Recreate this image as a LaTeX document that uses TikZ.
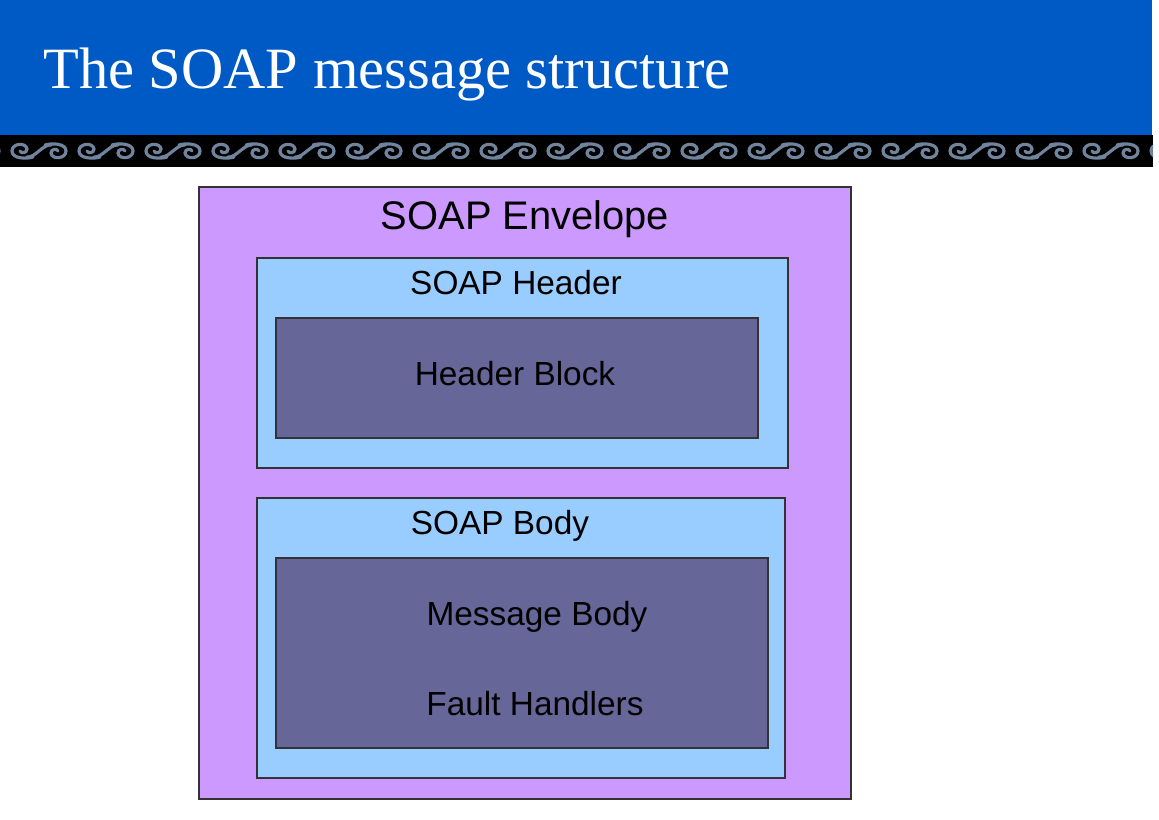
\documentclass[tikz,border=0pt]{standalone}
\usepackage{fontspec}
\setmainfont{Liberation Serif}
\setsansfont{Liberation Sans}
\definecolor{slideblue}{RGB}{0,90,198}
\definecolor{envpurple}{RGB}{204,153,255}
\definecolor{partblue}{RGB}{153,204,255}
\definecolor{blockgray}{RGB}{102,102,153}
\definecolor{scrollgray}{RGB}{112,132,158}
\tikzset{
  envbox/.style={draw=black!80,line width=0.6pt,fill=envpurple},
  partbox/.style={draw=black!80,line width=0.6pt,fill=partblue},
  blockbox/.style={draw=black!80,line width=0.6pt,fill=blockgray},
  boxtext/.style={font=\sffamily\fontsize{19}{22}\selectfont,anchor=base,inner sep=0pt},
  scrollline/.style={draw=scrollgray,line width=1.8pt,line cap=round},
  scroll/.pic={
    \draw[scrollline] (-6,6) .. controls (-12,8) and (-27,8) .. (-27,0)
       .. controls (-27,-8) and (-13,-9) .. (-12,-2) .. controls (-12,2) and (-18,3) .. (-19,0);
    \draw[scrollline] (-12,6) .. controls (-4,7) and (4,-7) .. (12,-6);
    \draw[scrollline] (6,-6) .. controls (12,-8) and (27,-8) .. (27,0)
       .. controls (27,8) and (13,9) .. (12,2) .. controls (12,-2) and (18,-3) .. (19,0);
  }
}
\begin{document}
\begin{tikzpicture}[x=0.02cm,y=-0.02cm]
    \fill[white] (0,0) rectangle (1159,819);
    \useasboundingbox (0,0) rectangle (1159,819);
    % title band
    \fill[slideblue] (0,0) rectangle (1152,135);
    \fill[black] (0,135) rectangle (1153,167);
    \begin{scope}
      \clip (0,135) rectangle (1153,167);
      \foreach \k in {-1,...,17}
        \pic at ({39+67*\k},151) {scroll};
    \end{scope}
    \node[anchor=base west,inner sep=0pt,text=white,font=\fontsize{33.3}{40}\selectfont] (title) at (43,88) {The SOAP message structure};

    % envelope and its parts
    \draw[envbox] (199,187) rectangle (851,799);
    \node[boxtext,font=\sffamily\fontsize{22.7}{26}\selectfont] (envtitle) at (525,229) {SOAP Envelope};

    \draw[partbox] (257,258) rectangle (788,468);
    \node[boxtext] (headtitle) at (516,294) {SOAP Header};
    \draw[blockbox] (276,318) rectangle (758,438);
    \node[boxtext] (headblock) at (515,385) {Header Block};

    \draw[partbox] (257,498) rectangle (785,778);
    \node[boxtext] (bodytitle) at (500,534) {SOAP Body};
    \draw[blockbox] (276,558) rectangle (768,748);
    \node[boxtext] (msgbody) at (537,625) {Message Body};
    \node[boxtext] (faults) at (535,715) {Fault Handlers};
\end{tikzpicture}
\end{document}
